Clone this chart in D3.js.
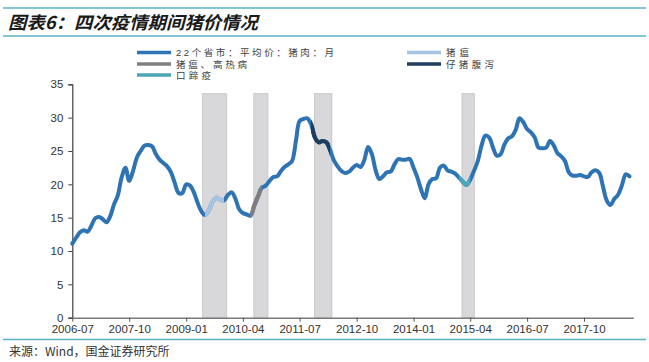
<!DOCTYPE html>
<html>
<head>
<meta charset="utf-8">
<script src="https://cdn.jsdelivr.net/npm/d3@7"></script>
<style>
  body { margin: 0; background: #fff; }
  svg { display: block; }
  .cjk { font-family: "Noto Sans CJK SC", "Noto Sans", sans-serif; }
  .leg { font-family: "Liberation Sans", "Noto Sans CJK SC", sans-serif; }
  .num { font-family: "Liberation Sans", Arial, sans-serif; }
</style>
</head>
<body>
<svg id="chart"></svg>
<script>
// monthly pork price, 22 provinces average (yuan/kg), 2006-07 .. 2018-10
const startMonth = "2006-07";
const porkPrice = [
  11.1, 12.0, 12.8, 13.1, 12.9, 13.8, 14.9, 15.1, 14.8, 14.3, 15.2, 17.0,
  18.3, 21.0, 22.5, 20.5, 22.0, 24.0, 25.0, 25.8, 25.9, 25.7, 24.6, 23.7,
  23.2, 22.7, 21.8, 20.2, 18.7, 18.7, 20.0, 19.8, 18.9, 17.3, 16.0, 15.4,
  16.1, 17.4, 18.0, 17.7, 17.6, 18.4, 18.8, 17.8, 16.3, 15.7, 15.5, 15.3,
  16.8, 18.2, 19.5, 19.8, 20.5, 21.1, 21.2, 22.0, 22.6, 23.0, 23.5, 26.5,
  29.5, 29.8, 29.9, 29.0, 27.0, 26.3, 26.5, 26.3, 25.2, 23.6, 22.7, 22.0,
  21.7, 21.9, 22.5, 22.9, 22.6, 23.6, 25.6, 24.5, 22.2, 20.8, 21.2, 21.8,
  21.9, 23.0, 23.8, 23.7, 23.7, 23.8, 22.5, 21.0, 19.3, 17.9, 20.0, 20.8,
  20.9, 22.5, 22.8, 22.1, 21.9, 21.6, 21.0, 20.4, 19.9, 20.7, 22.0, 23.5,
  25.8, 27.3, 27.0, 25.5, 24.3, 24.5, 26.0, 26.9, 27.2, 28.2, 29.9, 29.3,
  28.3, 27.8, 27.0, 25.5, 25.4, 25.5, 26.5, 25.8, 24.7, 24.2, 23.5, 21.8,
  21.3, 21.3, 21.4, 21.2, 21.1, 21.8, 22.1, 21.7, 19.8, 17.6, 16.9, 17.8,
  18.4, 19.8, 21.5, 21.2
];

// epidemic periods highlighted on the line
const epidemicNames = ["猪瘟", "猪瘟、高热病", "仔猪腹泻", "口蹄疫"];
const epidemicColors = ["#a7c3e2", "#7f7f7f", "#203d5e", "#4ba6b8"];
const epidemicRanges = [
  ["2009-06", "2009-11"],
  ["2010-06", "2010-09"],
  ["2011-10", "2012-03"],
  ["2015-01", "2015-04"]
];

// grey shaded windows behind the line
const shadeRanges = [
  ["2009-05-13", "2009-11-22"],
  ["2010-06-28", "2010-10-19"],
  ["2011-10-28", "2012-03-16"],
  ["2015-01-25", "2015-05-04"]
];
const shadeTop = 33.6;

const xTickLabels = ["2006-07", "2007-10", "2009-01", "2010-04", "2011-07",
  "2012-10", "2014-01", "2015-04", "2016-07", "2017-10"];
const yTicks = [0, 5, 10, 15, 20, 25, 30, 35];

const mainName = "22个省市：平均价：猪肉：月";
const mainColor = "#2e74b5";

const W = 649, H = 362;
const svg = d3.select("#chart").attr("width", W).attr("height", H);

const parseM = d3.timeParse("%Y-%m");
const parseD = d3.timeParse("%Y-%m-%d");
const t0 = parseM(startMonth);
const months = porkPrice.map((v, i) => d3.timeMonth.offset(t0, i));
const data = months.map((d, i) => ({ date: d, value: porkPrice[i] }));

const x = d3.scaleTime()
  .domain([t0, d3.timeMonth.offset(t0, 148)])
  .range([72.3, 633.3]);
const y = d3.scaleLinear().domain([0, 35]).range([317.7, 84.3]);

// header lines + title
svg.append("line").attr("x1", 3).attr("x2", 646).attr("y1", 8).attr("y2", 8)
  .attr("stroke", "#5ab3c6").attr("stroke-width", 1.6);
svg.append("line").attr("x1", 3).attr("x2", 646).attr("y1", 36).attr("y2", 36)
  .attr("stroke", "#5ab3c6").attr("stroke-width", 1.6);
svg.append("text").attr("class", "cjk")
  .attr("x", 8).attr("y", 29)
  .attr("font-size", 17.5).attr("font-weight", "bold").attr("font-style", "italic")
  .attr("fill", "#1a1a1a")
  .attr("textLength", 250).attr("lengthAdjust", "spacingAndGlyphs")
  .text("图表6：四次疫情期间猪价情况");

// legend
const legendItems = [
  { name: mainName, color: mainColor, x: 137, y: 52.5, len: 158 },
  { name: epidemicNames[0], color: epidemicColors[0], x: 407, y: 52.5, len: 23 },
  { name: epidemicNames[1], color: epidemicColors[1], x: 137, y: 64, len: 71 },
  { name: epidemicNames[2], color: epidemicColors[2], x: 407, y: 64, len: 48 },
  { name: epidemicNames[3], color: epidemicColors[3], x: 137, y: 75, len: 35 }
];
const lg = svg.append("g").selectAll("g").data(legendItems).join("g");
lg.append("line")
  .attr("x1", d => d.x).attr("x2", d => d.x + 34)
  .attr("y1", d => d.y).attr("y2", d => d.y)
  .attr("stroke", d => d.color).attr("stroke-width", 3.5);
lg.append("text").attr("class", "leg")
  .attr("x", d => d.x + 39).attr("y", d => d.y + 3.5)
  .attr("font-size", 9.5).attr("fill", "#404040")
  .attr("textLength", d => d.len).attr("lengthAdjust", "spacing")
  .text(d => d.name);

// shaded windows
svg.append("g").selectAll("rect").data(shadeRanges).join("rect")
  .attr("x", d => x(parseD(d[0])))
  .attr("width", d => x(parseD(d[1])) - x(parseD(d[0])))
  .attr("y", y(shadeTop))
  .attr("height", y(0) - y(shadeTop))
  .attr("fill", "#d8d8da")
  .attr("stroke", "#c2c2c4").attr("stroke-width", 0.8);

// axes
const yAxis = d3.axisLeft(y).tickValues(yTicks).tickSize(4).tickPadding(5);
const gy = svg.append("g").attr("transform", `translate(${x.range()[0]},0)`).call(yAxis);
gy.select(".domain").attr("stroke", "#404040").attr("stroke-width", 1.2);
gy.selectAll(".tick line").attr("stroke", "#404040");
gy.selectAll("text").attr("class", "num").attr("font-size", 11.5).attr("fill", "#333");

const xAxis = d3.axisBottom(x)
  .tickValues(xTickLabels.map(parseM))
  .tickFormat(d3.timeFormat("%Y-%m"))
  .tickSizeInner(4).tickSizeOuter(0).tickPadding(3);
const gx = svg.append("g").attr("transform", `translate(0,${y(0)})`).call(xAxis);
gx.select(".domain").attr("stroke", "#7a7a7a").attr("stroke-width", 1.6);
gx.selectAll(".tick line").attr("stroke", "#555");
gx.selectAll("text").attr("class", "num").attr("font-size", 11.5).attr("fill", "#333");

// price line
const line = d3.line()
  .x(d => x(d.date)).y(d => y(d.value))
  .curve(d3.curveCatmullRom.alpha(0.5));

svg.append("path").datum(data)
  .attr("d", line)
  .attr("fill", "none")
  .attr("stroke", mainColor).attr("stroke-width", 4)
  .attr("stroke-linejoin", "round").attr("stroke-linecap", "round");

// epidemic overlays: same curve, clipped to each period
const defs = svg.append("defs");
epidemicRanges.forEach((r, i) => {
  const x0 = x(parseM(r[0])), x1 = x(parseM(r[1]));
  defs.append("clipPath").attr("id", "clip" + i)
    .append("rect").attr("x", x0).attr("width", x1 - x0)
    .attr("y", 0).attr("height", H);
  svg.append("path").datum(data)
    .attr("d", line)
    .attr("clip-path", `url(#clip${i})`)
    .attr("fill", "none")
    .attr("stroke", epidemicColors[i]).attr("stroke-width", 4.2)
    .attr("stroke-linejoin", "round");
});

// footer
svg.append("line").attr("x1", 3).attr("x2", 646).attr("y1", 339.5).attr("y2", 339.5)
  .attr("stroke", "#5ab3c6").attr("stroke-width", 1.6);
svg.append("text").attr("class", "cjk")
  .attr("x", 9).attr("y", 356)
  .attr("font-size", 12).attr("fill", "#333")
  .text("来源：Wind，国金证券研究所");
</script>
</body>
</html>
